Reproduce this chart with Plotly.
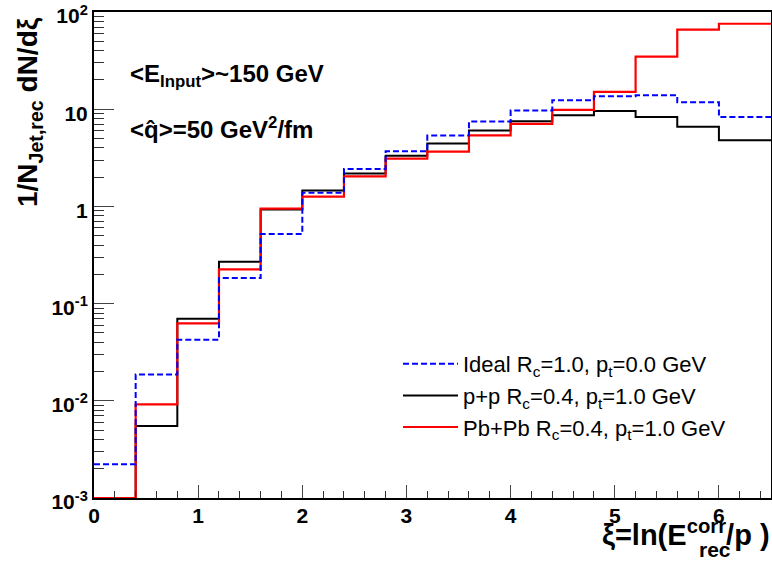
import plotly.graph_objects as go

# bin edges in xi
xi_edges = [0.0, 0.4, 0.8, 1.2, 1.6, 2.0, 2.4, 2.8, 3.2, 3.6, 4.0, 4.4, 4.8, 5.2, 5.6, 6.0, 6.5]

ideal_vals = [0.00222, 0.0187, 0.0426, 0.183, 0.52, 1.38, 2.43, 3.69, 5.36, 7.46, 9.68, 12.35, 13.6, 13.9, 11.8, 8.33]
pp_vals = [0.001, 0.0055, 0.070, 0.27, 0.93, 1.46, 2.18, 3.33, 4.43, 6.03, 7.5, 8.66, 9.6, 8.33, 6.62, 4.79]
pbpb_vals = [0.001, 0.0092, 0.0625, 0.225, 0.95, 1.26, 2.04, 3.1, 3.66, 5.39, 7.06, 9.84, 15.1, 34.7, 65.8, 75.8]

names = {
    "ideal": "Ideal R<sub>c</sub>=1.0, p<sub>t</sub>=0.0 GeV",
    "pp": "p+p R<sub>c</sub>=0.4, p<sub>t</sub>=1.0 GeV",
    "pbpb": "Pb+Pb R<sub>c</sub>=0.4, p<sub>t</sub>=1.0 GeV",
}

y_tickvals = [1e-3, 1e-2, 1e-1, 1, 10, 100]
y_ticktext = ["10<sup>-3</sup>", "10<sup>-2</sup>", "10<sup>-1</sup>", "1", "10", "10<sup>2</sup>"]
x_tickvals = [0, 1, 2, 3, 4, 5, 6]

FONT = "Liberation Sans, Arial, sans-serif"

# plot-area geometry (pixels)
W, H = 772, 563
ML, MR, MT, MB = 94, 1, 12, 65
PW, PH = W - ML - MR, H - MT - MB


def px_x(p):
    return (p - ML) / PW


def px_y(p):
    return (H - MB - p) / PH


def step(vals):
    return list(vals) + [vals[-1]]


fig = go.Figure()
fig.add_trace(go.Scatter(x=xi_edges, y=step(pp_vals), mode="lines", line_shape="hv",
                         line=dict(color="black", width=2), name=names["pp"], legendrank=2))
fig.add_trace(go.Scatter(x=xi_edges, y=step(pbpb_vals), mode="lines", line_shape="hv",
                         line=dict(color="#ff0000", width=2.2), name=names["pbpb"], legendrank=3))
fig.add_trace(go.Scatter(x=xi_edges, y=step(ideal_vals), mode="lines", line_shape="hv",
                         line=dict(color="#0000ff", width=2, dash="6px,3px"), name=names["ideal"], legendrank=1))

minor_y = []
for d in [1e-3, 1e-2, 1e-1, 1, 10]:
    for k in range(2, 10):
        minor_y.append(d * k)

bold = dict(family=FONT, weight="bold", color="black")

fig.update_layout(
    width=W, height=H,
    margin=dict(l=ML, r=MR, t=MT, b=MB, autoexpand=False),
    paper_bgcolor="white", plot_bgcolor="white",
    font=dict(family=FONT, color="black"),
    showlegend=True,
    legend=dict(x=px_x(398), y=px_y(343), xanchor="left", yanchor="top",
                bgcolor="rgba(0,0,0,0)", font=dict(size=22, family=FONT),
                itemwidth=55, tracegroupgap=0),
    xaxis=dict(range=[0, 6.5], tickvals=x_tickvals, ticks="inside", ticklen=13, tickwidth=1,
               showline=True, linecolor="black", linewidth=2, mirror=True, showgrid=False, zeroline=False,
               automargin=False, ticklabeloverflow="allow", ticklabelstandoff=-2,
               tickfont=dict(size=21, **bold),
               minor=dict(dtick=0.2, ticks="inside", ticklen=7, tickwidth=1, tickcolor="#333")),
    yaxis=dict(type="log", range=[-3, 2.0004], tickvals=y_tickvals, ticktext=y_ticktext,
               ticks="inside", ticklen=20, tickwidth=1,
               showline=True, linecolor="black", linewidth=2, mirror=True, showgrid=False, zeroline=False,
               automargin=False, ticklabeloverflow="allow", ticklabelshift=4,
               tickfont=dict(size=21, **bold),
               minor=dict(tickvals=minor_y, ticks="inside", ticklen=10, tickwidth=1, tickcolor="#333")),
    annotations=[
        dict(text="1/N<sub>Jet,rec</sub> dN/dξ", xref="paper", yref="paper", x=px_x(30), y=px_y(112),
             xanchor="center", yanchor="middle", textangle=-90, showarrow=False,
             font=dict(size=28, **bold)),
        dict(text="&lt;E<sub>Input</sub>&gt;~150 GeV", xref="paper", yref="paper", x=px_x(128), y=px_y(75),
             xanchor="left", yanchor="middle", showarrow=False,
             font=dict(size=24, **bold)),
        dict(text="&lt;q̂&gt;=50 GeV<sup>2</sup>/fm", xref="paper", yref="paper", x=px_x(128), y=px_y(128),
             xanchor="left", yanchor="middle", showarrow=False,
             font=dict(size=24, **bold)),
        dict(text="ξ=ln(E<sup>corr</sup>/p )", xref="paper", yref="paper", x=px_x(772), y=px_y(553),
             xanchor="right", yanchor="bottom", showarrow=False,
             font=dict(size=29, **bold)),
        dict(text="rec", xref="paper", yref="paper", x=px_x(697), y=px_y(563),
             xanchor="left", yanchor="bottom", showarrow=False,
             font=dict(size=21, **bold)),
    ],
)

fig.write_html("out.html", config={"displayModeBar": False},
               post_script="document.body.style.margin='0';")
